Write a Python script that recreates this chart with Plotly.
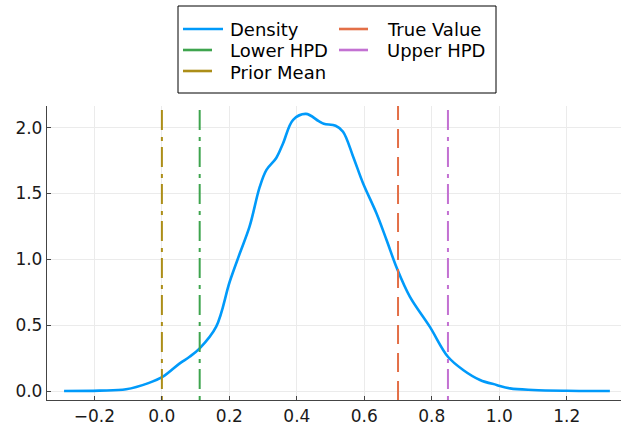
import plotly.graph_objects as go

# Density curve
dens_x = [-0.29, -0.185, -0.106, -0.04, 0.003, 0.053, 0.082, 0.112, 0.161, 0.201,
          0.231, 0.260, 0.290, 0.310, 0.339, 0.359, 0.389, 0.427, 0.465, 0.480,
          0.515, 0.537, 0.567, 0.596, 0.636, 0.666, 0.697, 0.735, 0.794, 0.848,
          0.893, 0.943, 0.992, 1.032, 1.10, 1.20, 1.328]
dens_y = [0.0, 0.003, 0.013, 0.06, 0.109, 0.21, 0.26, 0.324, 0.489, 0.83,
          1.046, 1.25, 1.55, 1.68, 1.77, 1.88, 2.06, 2.105, 2.05, 2.03,
          2.015, 1.97, 1.78, 1.58, 1.35, 1.147, 0.93, 0.717, 0.489, 0.26,
          0.16, 0.084, 0.046, 0.02, 0.008, 0.002, 0.0]

# Reference lines
line_names = ["True Value", "Lower HPD", "Upper HPD", "Prior Mean"]
line_values = [0.7, 0.112, 0.848, 0.0]
line_colors = ["#E36F47", "#3EA44E", "#C371D2", "#AC8E18"]
line_dashes = ["19px,9px", "4px,7px,20px,6px", "4px,7px,20px,6px", "4px,7px,20px,6px"]

density_name = "Density"
density_color = "#009AFA"

x_ticks = [-0.2, 0.0, 0.2, 0.4, 0.6, 0.8, 1.0, 1.2]
x_tick_labels = ["\u22120.2", "0.0", "0.2", "0.4", "0.6", "0.8", "1.0", "1.2"]
y_ticks = [0.0, 0.5, 1.0, 1.5, 2.0]
y_tick_labels = ["0.0", "0.5", "1.0", "1.5", "2.0"]

x_range = [-0.3406, 1.361]
y_range = [-0.0684, 2.165]

W, H = 621, 426
ML, MR, MT, MB = 47, 0, 106, 26
PW, PH = W - ML - MR, H - MT - MB

fig = go.Figure()
fig.add_trace(go.Scatter(x=dens_x, y=dens_y, mode="lines", name=density_name,
                         line=dict(color=density_color, width=2.6, shape="spline", smoothing=1.0),
                         showlegend=False))
for nm, v, c, d in zip(line_names, line_values, line_colors, line_dashes):
    fig.add_trace(go.Scatter(x=[v, v], y=y_range, mode="lines", name=nm,
                             line=dict(color=c, width=2, dash=d), showlegend=False))

axis_common = dict(showline=True, linecolor="#444444", linewidth=1.3, mirror=False,
                   ticks="inside", ticklen=4, tickcolor="#444444", tickwidth=1,
                   showgrid=True, gridcolor="#ebebeb", gridwidth=1, zeroline=False,
                   tickfont=dict(family="DejaVu Sans", size=17, color="#1a1a1a"))
fig.update_xaxes(range=x_range, tickvals=x_ticks, ticktext=x_tick_labels, **axis_common)
fig.update_yaxes(range=y_range, tickvals=y_ticks, ticktext=y_tick_labels, **axis_common)

# Legend drawn by hand (solid sample lines like the reference)
def px2paper(px, py):
    return (px - ML) / PW, (H - MB - py) / PH

bx0, by0 = px2paper(178, 6)
bx1, by1 = px2paper(496, 93)
shapes = [dict(type="rect", xref="paper", yref="paper", x0=bx0, x1=bx1, y0=by1, y1=by0,
               line=dict(color="#000000", width=1), fillcolor="white", layer="above")]
annotations = []
legend_entries = [
    (density_name, density_color, 183, 223, 29, 228),
    (line_names[0], line_colors[0], 339, 368, 29, 385),
    (line_names[1], line_colors[1], 183, 212, 50, 228),
    (line_names[2], line_colors[2], 339, 368, 50, 385),
    (line_names[3], line_colors[3], 183, 212, 71, 228),
]
for nm, c, lx0, lx1, ly, tx in legend_entries:
    x0, y0 = px2paper(lx0, ly)
    x1, _ = px2paper(lx1, ly)
    shapes.append(dict(type="line", xref="paper", yref="paper", x0=x0, x1=x1, y0=y0, y1=y0,
                       line=dict(color=c, width=2.6), layer="above"))
    tx_p, ty_p = px2paper(tx, ly + 1)
    annotations.append(dict(text=nm, xref="paper", yref="paper", x=tx_p, y=ty_p,
                            xanchor="left", yanchor="middle", showarrow=False,
                            font=dict(family="DejaVu Sans", size=18, color="#000000")))

fig.update_layout(width=W, height=H, margin=dict(l=ML, r=MR, t=MT, b=MB),
                  paper_bgcolor="white", plot_bgcolor="white",
                  shapes=shapes, annotations=annotations, showlegend=False)

fig.write_html("out.html", config={"displayModeBar": False},
               post_script="document.body.style.margin='0px';")
